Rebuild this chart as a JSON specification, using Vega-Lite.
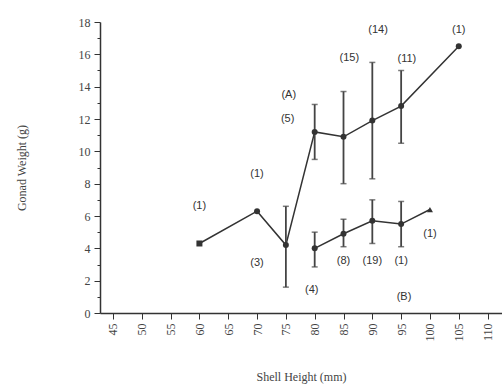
{
  "$schema": "https://vega.github.io/schema/vega-lite/v6.json",
  "autosize": {"type": "none"},
  "padding": {"left": 100, "top": 22, "right": 0, "bottom": 72},
  "width": 402,
  "height": 291,
  "background": "white",
  "config": {
    "view": {"stroke": null},
    "axis": {"domainColor": "#333", "tickColor": "#333", "labelColor": "#444", "titleColor": "#444", "labelFont": "Liberation Serif", "titleFont": "Liberation Serif", "titleFontWeight": "normal", "labelFontSize": 12, "titleFontSize": 12, "grid": false, "domainWidth": 1.5}
  },
  "datasets": {
    "pts": [
      {"series": "A", "x": 60, "y": 4.3},
      {"series": "A", "x": 70, "y": 6.3},
      {"series": "A", "x": 75, "y": 4.2, "lo": 1.6, "hi": 6.6},
      {"series": "A", "x": 80, "y": 11.2, "lo": 9.5, "hi": 12.9},
      {"series": "A", "x": 85, "y": 10.9, "lo": 8.0, "hi": 13.7},
      {"series": "A", "x": 90, "y": 11.9, "lo": 8.3, "hi": 15.5},
      {"series": "A", "x": 95, "y": 12.8, "lo": 10.5, "hi": 15.0},
      {"series": "A", "x": 105, "y": 16.5},
      {"series": "B", "x": 80, "y": 4.0, "lo": 2.85, "hi": 5.0},
      {"series": "B", "x": 85, "y": 4.9, "lo": 4.1, "hi": 5.8},
      {"series": "B", "x": 90, "y": 5.7, "lo": 4.3, "hi": 7.0},
      {"series": "B", "x": 95, "y": 5.5, "lo": 4.1, "hi": 6.9},
      {"series": "B", "x": 100, "y": 6.4}
    ],
    "labels": [
      {"x": 60, "y": 6.6, "text": "(1)"},
      {"x": 70, "y": 8.6, "text": "(1)"},
      {"x": 70, "y": 3.1, "text": "(3)"},
      {"x": 79.5, "y": 1.4, "text": "(4)"},
      {"x": 75.5, "y": 13.5, "text": "(A)"},
      {"x": 75.3, "y": 12.0, "text": "(5)"},
      {"x": 86, "y": 15.8, "text": "(15)"},
      {"x": 91, "y": 17.5, "text": "(14)"},
      {"x": 96, "y": 15.7, "text": "(11)"},
      {"x": 105, "y": 17.5, "text": "(1)"},
      {"x": 85, "y": 3.2, "text": "(8)"},
      {"x": 90, "y": 3.2, "text": "(19)"},
      {"x": 95, "y": 3.2, "text": "(1)"},
      {"x": 100, "y": 4.9, "text": "(1)"},
      {"x": 95.5, "y": 1.0, "text": "(B)"}
    ]
  },
  "encoding": {
    "x": {"field": "x", "type": "quantitative", "scale": {"domain": [42.75, 112.5], "nice": false, "zero": false},
      "axis": {"values": [45, 50, 55, 60, 65, 70, 75, 80, 85, 90, 95, 100, 105, 110], "labelOverlap": false, "labelAngle": -90, "labelAlign": "right", "labelBaseline": "middle", "tickSize": 6, "labelPadding": 4, "title": "Shell Height (mm)", "titlePadding": 30}},
    "y": {"field": "y", "type": "quantitative", "scale": {"domain": [0, 18], "nice": false},
      "axis": {"values": [0,1,2,3,4,5,6,7,8,9,10,11,12,13,14,15,16,17,18], "labelOverlap": false, "labelExpr": "datum.value % 2 == 0 ? datum.label : ''", "tickSize": {"condition": {"test": "datum.value % 2 == 0", "value": 6}, "value": 3}, "labelPadding": 4, "title": "Gonad Weight (g)", "titlePadding": 50}}
  },
  "layer": [
    {
      "data": {"name": "pts"},
      "mark": {"type": "line", "color": "#333", "strokeWidth": 1.5},
      "encoding": {"detail": {"field": "series"}}
    },
    {
      "data": {"name": "pts"},
      "transform": [{"filter": "isValid(datum.lo)"}, {"fold": ["lo"], "as": ["end", "y"]}],
      "mark": {"type": "rule", "color": "#444", "strokeWidth": 1.8},
      "encoding": {
        "y2": {"field": "hi"}
      }
    },
    {
      "data": {"name": "pts"},
      "transform": [{"filter": "isValid(datum.lo)"}, {"fold": ["lo", "hi"], "as": ["end", "y"]}],
      "mark": {"type": "tick", "orient": "horizontal", "color": "#444", "size": 6, "thickness": 1.5},
      "encoding": {}
    },
    {
      "data": {"name": "pts"},
      "mark": {"type": "point", "filled": true, "color": "#333", "opacity": 1, "size": 36,
        "shape": {"expr": "datum.x == 60 ? 'square' : (datum.x == 100 ? 'triangle-up' : 'circle')"}},
      "encoding": {}
    },
    {
      "data": {"name": "labels"},
      "mark": {"type": "text", "font": "Liberation Sans", "fontSize": 11, "color": "#333"},
      "encoding": {"text": {"field": "text"}}
    }
  ]
}
